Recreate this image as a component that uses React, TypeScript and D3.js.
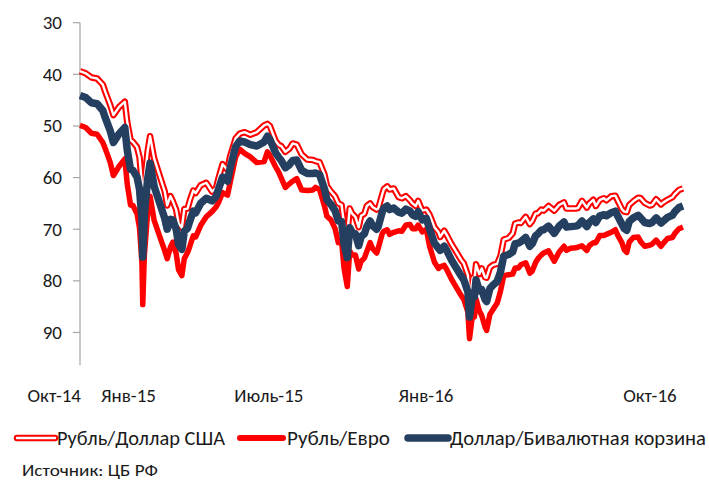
import React from 'react';
import * as d3 from 'd3';

const dates = [
  '2014-10-01','2014-10-08','2014-10-15','2014-10-22','2014-10-29','2014-11-01','2014-11-07','2014-11-11','2014-11-18','2014-11-25',
  '2014-11-28','2014-12-02','2014-12-05','2014-12-10','2014-12-13','2014-12-16','2014-12-17','2014-12-19','2014-12-23','2014-12-26',
  '2014-12-31','2015-01-13','2015-01-16','2015-01-20','2015-01-23','2015-01-27','2015-01-30','2015-02-03','2015-02-06','2015-02-10',
  '2015-02-13','2015-02-17','2015-02-20','2015-02-26','2015-03-05','2015-03-12','2015-03-17','2015-03-20','2015-03-25','2015-03-31',
  '2015-04-03','2015-04-10','2015-04-15','2015-04-21','2015-04-28','2015-05-06','2015-05-15','2015-05-19','2015-05-22','2015-05-29',
  '2015-06-02','2015-06-05','2015-06-10','2015-06-15','2015-06-19','2015-06-24','2015-06-30','2015-07-07','2015-07-14','2015-07-17',
  '2015-07-22','2015-07-28','2015-07-31','2015-08-05','2015-08-10','2015-08-14','2015-08-18','2015-08-21','2015-08-25','2015-08-28',
  '2015-08-31','2015-09-04','2015-09-08','2015-09-11','2015-09-15','2015-09-18','2015-09-22','2015-09-25','2015-09-30','2015-10-02',
  '2015-10-07','2015-10-09','2015-10-13','2015-10-16','2015-10-21','2015-10-27','2015-10-31','2015-11-05','2015-11-10','2015-11-13',
  '2015-11-17','2015-11-20','2015-11-25','2015-11-30','2015-12-04','2015-12-10','2015-12-15','2015-12-17','2015-12-22','2015-12-25',
  '2015-12-31','2016-01-12','2016-01-15','2016-01-20','2016-01-22','2016-01-26','2016-01-28','2016-01-30','2016-02-03','2016-02-06',
  '2016-02-10','2016-02-12','2016-02-16','2016-02-20','2016-02-25','2016-02-29','2016-03-04','2016-03-10','2016-03-15','2016-03-18',
  '2016-03-22','2016-03-25','2016-03-31','2016-04-05','2016-04-08','2016-04-12','2016-04-15','2016-04-19','2016-04-22','2016-04-28',
  '2016-05-05','2016-05-11','2016-05-17','2016-05-20','2016-05-25','2016-05-31','2016-06-03','2016-06-08','2016-06-14','2016-06-17',
  '2016-06-22','2016-06-25','2016-06-30','2016-07-05','2016-07-08','2016-07-14','2016-07-19','2016-07-22','2016-07-27','2016-07-30',
  '2016-08-02','2016-08-05','2016-08-10','2016-08-16','2016-08-19','2016-08-24','2016-08-30','2016-09-02','2016-09-07','2016-09-13',
  '2016-09-16','2016-09-21','2016-09-27','2016-09-30','2016-10-05','2016-10-10'
];

const usdRub = [
  39.4,39.8,40.6,40.8,42.0,43.4,45.9,47.9,46.3,45.3,
  49.3,52.7,53.1,54.1,56.0,61.2,67.8,60.7,54.9,52.0,
  56.3,62.7,65.4,63.6,64.6,66.2,68.9,69.7,66.1,66.0,
  64.3,62.5,63.0,61.5,61.0,62.7,62.0,60.1,57.4,58.5,
  56.0,52.4,51.5,51.2,51.7,51.2,49.9,49.6,50.0,52.9,
  53.7,53.9,55.0,54.4,53.4,53.6,55.5,56.5,56.6,56.8,
  57.0,59.4,61.6,62.7,63.6,65.0,65.3,68.9,70.9,66.0,
  67.0,67.6,69.6,67.4,67.0,65.5,65.0,65.7,66.2,66.0,
  63.2,62.2,61.7,62.3,62.1,63.8,64.0,63.6,64.4,65.0,
  65.5,64.5,66.4,66.2,67.2,69.6,70.6,71.5,70.3,71.1,
  72.9,76.0,76.6,78.9,83.6,79.4,79.9,76.8,78.7,77.6,
  79.3,79.4,77.4,76.9,76.7,75.2,72.0,71.7,70.8,68.9,
  68.7,68.8,67.6,69.0,68.4,67.0,66.9,66.2,66.4,65.5,
  66.4,65.3,64.8,66.0,66.0,66.0,65.9,64.5,65.8,65.0,
  64.3,65.5,64.3,64.0,64.4,63.6,63.5,64.5,66.1,66.6,
  66.7,65.3,64.6,63.9,64.0,64.9,65.4,65.3,64.2,65.2,
  64.8,64.3,63.8,63.2,62.4,62.1
];

const eurRub = [
  49.9,50.3,51.4,51.6,53.2,54.4,57.0,59.6,57.8,56.4,
  61.3,65.3,65.4,67.0,69.7,76.5,84.6,75.0,66.8,63.6,
  68.3,74.2,75.7,73.5,72.5,74.7,77.9,79.0,75.7,74.5,
  73.2,71.3,71.5,69.3,67.6,66.6,65.7,64.8,62.9,63.4,
  61.2,56.0,54.5,55.3,56.0,57.1,56.9,55.0,55.7,57.9,
  59.0,60.1,61.9,61.2,60.7,60.2,62.4,62.5,62.4,61.9,
  62.3,65.5,67.5,68.2,69.9,72.6,72.3,77.5,81.1,74.2,
  75.0,75.0,77.7,76.2,75.6,74.3,72.6,73.7,74.6,73.7,
  70.8,70.4,70.1,71.0,70.6,70.3,70.4,69.2,69.1,69.9,
  69.9,69.2,70.5,70.0,73.3,76.4,77.6,77.3,77.0,77.8,
  79.7,82.9,83.6,86.0,91.2,86.1,87.0,83.5,85.8,86.7,
  88.9,89.6,86.5,85.5,84.3,82.0,79.0,78.8,78.7,77.5,
  77.5,76.9,76.5,78.5,78.1,76.5,75.7,75.0,74.6,74.2,
  76.2,74.4,73.3,74.1,73.7,73.6,73.5,73.2,74.1,73.2,
  72.6,72.6,71.2,71.2,71.0,70.6,70.1,71.2,72.6,74.0,
  74.5,72.5,71.6,71.5,72.4,73.3,73.1,72.9,72.1,73.3,
  72.7,71.8,71.6,70.8,69.9,69.6
];

const basketRub = [
  44.1,44.5,45.5,45.7,47.0,48.4,50.9,53.2,51.5,50.3,
  54.7,58.4,58.6,59.9,62.2,68.1,75.4,67.1,60.3,57.2,
  61.7,67.9,70.0,68.1,68.2,70.0,73.0,73.9,70.4,69.8,
  68.3,66.5,66.8,65.0,64.0,64.5,63.7,62.2,59.9,60.7,
  58.3,54.0,52.9,53.1,53.6,53.9,53.1,52.0,52.6,55.2,
  56.1,56.7,58.1,57.5,56.7,56.6,58.6,59.2,59.2,59.1,
  59.4,62.2,64.3,65.2,66.4,68.4,68.5,72.8,75.5,69.7,
  70.6,70.9,73.2,71.4,70.9,69.5,68.4,69.3,70.0,69.5,
  66.6,65.9,65.5,66.2,65.9,66.7,66.9,66.1,66.5,67.2,
  67.5,66.6,68.2,67.9,70.0,72.7,73.7,74.1,73.3,74.1,
  76.0,79.1,79.8,82.1,87.0,82.4,83.1,79.8,81.9,81.7,
  83.6,84.0,81.5,80.8,80.1,78.3,75.2,74.9,74.4,72.8,
  72.7,72.4,71.6,73.3,72.8,71.3,70.9,70.2,70.1,69.4,
  70.8,69.4,68.6,69.6,69.5,69.4,69.3,68.4,69.5,68.7,
  68.0,68.7,67.4,67.2,67.4,66.8,66.5,67.5,69.0,69.9,
  70.2,68.5,67.8,67.3,67.8,68.7,68.9,68.7,67.8,68.8,
  68.4,67.7,67.3,66.6,65.8,65.5
];

const yTicks = [30, 40, 50, 60, 70, 80, 90];
const xTickDates = ['2014-10-01', '2015-01-01', '2015-07-01', '2016-01-01', '2016-10-01'];
const xTickLabels = ['Окт-14', 'Янв-15', 'Июль-15', 'Янв-16', 'Окт-16'];
const seriesNames = ['Рубль/Доллар США', 'Рубль/Евро', 'Доллар/Бивалютная корзина'];
const sourceText = 'Источник: ЦБ РФ';

const RED = '#FF0000';
const NAVY = '#243F60';
const FONT = 'Carlito, Calibri, Lato, sans-serif';

export default function App() {
  const parse = d3.timeParse('%Y-%m-%d');
  const parsed = dates.map((d) => parse(d) as Date);
  const x = d3
    .scaleTime()
    .domain([parse('2014-10-01') as Date, parse('2016-10-10') as Date])
    .range([80, 683]);
  const y = d3.scaleLinear().domain([30, 96.3]).range([22.7, 365]);

  const line = d3
    .line<number>()
    .x((_, i) => x(parsed[i]))
    .y((v) => y(v))
    .curve(d3.curveLinear);

  const usdPath = line(usdRub) || '';
  const eurPath = line(eurRub) || '';
  const basketPath = line(basketRub) || '';

  const legendY = 438;

  return (
    <svg
      width={709}
      height={485}
      style={{ position: 'absolute', left: 0, top: 0, background: '#fff' }}
      fontFamily={FONT}
    >
      <rect x={0} y={0} width={709} height={485} fill="#fff" />
      {/* y axis */}
      <line x1={80} x2={80} y1={y(30)} y2={y(96.3)} stroke="#A6A6A6" strokeWidth={1.2} />
      {yTicks.map((t) => (
        <g key={t}>
          <line x1={73} x2={80} y1={y(t)} y2={y(t)} stroke="#A6A6A6" strokeWidth={1.2} />
          <text x={62} y={y(t)} textAnchor="end" dominantBaseline="central" fontSize={19} fill="#1a1a1a">
            {t}
          </text>
        </g>
      ))}
      {/* x labels */}
      {xTickDates.map((d, i) => (
        <text
          key={d}
          x={x(parse(d) as Date) + 1}
          y={395}
          textAnchor="end"
          dominantBaseline="central"
          fontSize={19}
          fill="#1a1a1a"
        >
          {xTickLabels[i]}
        </text>
      ))}
      {/* series */}
      <path d={usdPath} fill="none" stroke={RED} strokeWidth={6.5} strokeLinejoin="round" />
      <path d={usdPath} fill="none" stroke="#fff" strokeWidth={2.4} strokeLinejoin="round" />
      <path d={eurPath} fill="none" stroke={RED} strokeWidth={5.5} strokeLinejoin="round" />
      <path d={basketPath} fill="none" stroke={NAVY} strokeWidth={7.5} strokeLinejoin="round" />

      {/* legend */}
      <g>
        <line x1={17} x2={55} y1={legendY} y2={legendY} stroke={RED} strokeWidth={6.5} strokeLinecap="round" />
        <line x1={17} x2={55} y1={legendY} y2={legendY} stroke="#fff" strokeWidth={2.4} strokeLinecap="round" />
        <text x={57} y={legendY} dominantBaseline="central" fontSize={19.5} fill="#1a1a1a" textLength={168} lengthAdjust="spacingAndGlyphs">
          {seriesNames[0]}
        </text>
        <line x1={240} x2={283} y1={legendY} y2={legendY} stroke={RED} strokeWidth={6} strokeLinecap="round" />
        <text x={287} y={legendY} dominantBaseline="central" fontSize={19.5} fill="#1a1a1a" textLength={103} lengthAdjust="spacingAndGlyphs">
          {seriesNames[1]}
        </text>
        <line x1={408} x2={448} y1={legendY} y2={legendY} stroke={NAVY} strokeWidth={7.5} strokeLinecap="round" />
        <text x={450} y={legendY} dominantBaseline="central" fontSize={19.5} fill="#1a1a1a" textLength={256} lengthAdjust="spacingAndGlyphs">
          {seriesNames[2]}
        </text>
      </g>
      <text x={22} y={470} dominantBaseline="central" fontSize={16.5} fill="#1a1a1a" textLength={136} lengthAdjust="spacingAndGlyphs">
        {sourceText}
      </text>
    </svg>
  );
}
